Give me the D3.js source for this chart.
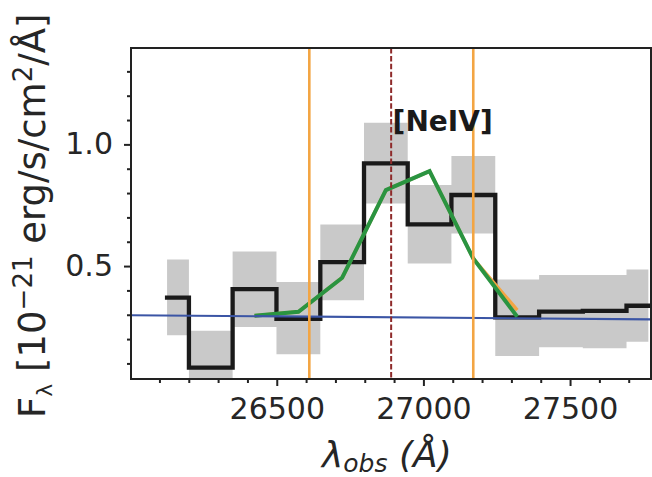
<!DOCTYPE html>
<html>
<head>
<meta charset="utf-8">
<script src="https://cdn.jsdelivr.net/npm/d3@7"></script>
<style>
  body { margin: 0; background: #fff; }
  text { font-family: "DejaVu Sans", sans-serif; }
</style>
</head>
<body>
<div id="chart"></div>
<script>
// spectrum bins (observed wavelength, Angstrom)
var wave = [26126, 26275, 26424, 26574, 26723, 26872, 27021, 27170, 27320, 27469, 27618, 27767];
var flux = [0.370, 0.083, 0.405, 0.283, 0.516, 0.922, 0.671, 0.792, 0.289, 0.313, 0.316, 0.337];
var fluxLo = [0.216, -0.07, 0.250, 0.138, 0.360, 0.757, 0.511, 0.634, 0.130, 0.166, 0.162, 0.189];
var fluxHi = [0.527, 0.234, 0.560, 0.435, 0.671, 1.089, 0.833, 0.952, 0.445, 0.463, 0.463, 0.486];

// line fit
var modelWave = [26424, 26574, 26723, 26872, 27021, 27170, 27320];
var model = [0.296, 0.312, 0.452, 0.812, 0.890, 0.531, 0.292];
var modelAlt = [0.296, 0.312, 0.452, 0.812, 0.890, 0.531, 0.319];

// continuum
var contWave = [26003, 27776];
var cont = [0.298, 0.281];

// markers
var windowLines = [26611, 27170];
var lineCenter = 26890;
var lineName = "[NeIV]";

var xMajor = [26500, 27000, 27500];
var xMinor = [26100, 26200, 26300, 26400, 26600, 26700, 26800, 26900, 27100, 27200, 27300, 27400, 27600, 27700];
var yMajor = [0.5, 1.0];
var yMinor = [0.1, 0.2, 0.3, 0.4, 0.6, 0.7, 0.8, 0.9, 1.1, 1.2, 1.3];

var W = 652, H = 477;
var pLeft = 131, pRight = 651, pTop = 48, pBottom = 379;

var svg = d3.select("#chart").append("svg")
    .attr("width", W).attr("height", H);

var x = d3.scaleLinear().domain([26003, 27776]).range([pLeft, pRight]);
var y = d3.scaleLinear().domain([0.036, 1.396]).range([pBottom, pTop]);

svg.append("clipPath").attr("id", "clip")
  .append("rect")
    .attr("x", pLeft).attr("y", pTop)
    .attr("width", pRight - pLeft).attr("height", pBottom - pTop);

var plot = svg.append("g").attr("clip-path", "url(#clip)");

var idx = d3.range(wave.length);

// error band
plot.append("path")
    .datum(idx)
    .attr("fill", "#c9c9c9")
    .attr("d", d3.area()
        .curve(d3.curveStep)
        .x(function(i) { return x(wave[i]); })
        .y0(function(i) { return y(fluxLo[i]); })
        .y1(function(i) { return y(fluxHi[i]); }));

// data step
plot.append("path")
    .datum(idx)
    .attr("fill", "none")
    .attr("stroke", "#1a1a1a")
    .attr("stroke-width", 4.3)
    .attr("stroke-linecap", "square")
    .attr("d", d3.line()
        .curve(d3.curveStep)
        .x(function(i) { return x(wave[i]); })
        .y(function(i) { return y(flux[i]); }));

var mIdx = d3.range(modelWave.length);

plot.append("path")
    .datum(mIdx)
    .attr("fill", "none")
    .attr("stroke", "#f3a543")
    .attr("stroke-width", 3.5)
    .attr("d", d3.line()
        .x(function(i) { return x(modelWave[i]); })
        .y(function(i) { return y(modelAlt[i]); }));

plot.append("path")
    .datum(mIdx)
    .attr("fill", "none")
    .attr("stroke", "#2a9441")
    .attr("stroke-width", 4)
    .attr("d", d3.line()
        .x(function(i) { return x(modelWave[i]); })
        .y(function(i) { return y(model[i]); }));

// continuum
plot.append("path")
    .datum([0, 1])
    .attr("fill", "none")
    .attr("stroke", "#3b55a5")
    .attr("stroke-width", 2.2)
    .attr("d", d3.line()
        .x(function(i) { return x(contWave[i]); })
        .y(function(i) { return y(cont[i]); }));

// integration window
plot.selectAll(".win")
    .data(windowLines)
    .enter().append("line")
    .attr("x1", function(d) { return x(d); })
    .attr("x2", function(d) { return x(d); })
    .attr("y1", pTop).attr("y2", pBottom)
    .attr("stroke", "#f3a543")
    .attr("stroke-width", 2.6);

plot.append("line")
    .attr("x1", x(lineCenter)).attr("x2", x(lineCenter))
    .attr("y1", pTop).attr("y2", pBottom)
    .attr("stroke", "#8e2a2a")
    .attr("stroke-width", 2)
    .attr("stroke-dasharray", "5.5,2.4");

svg.append("text")
    .attr("x", x(26895)).attr("y", y(1.057))
    .attr("font-size", 28)
    .attr("font-weight", "bold")
    .attr("fill", "#1a1a1a")
    .text(lineName);

// axes
var gx = svg.append("g").attr("transform", "translate(0," + pBottom + ")");
gx.call(d3.axisBottom(x).tickValues(xMajor).tickFormat(d3.format("d")).tickSize(7).tickPadding(12));
var gxm = svg.append("g").attr("transform", "translate(0," + pBottom + ")");
gxm.call(d3.axisBottom(x).tickValues(xMinor).tickFormat("").tickSize(4));

var gy = svg.append("g").attr("transform", "translate(" + pLeft + ",0)");
gy.call(d3.axisLeft(y).tickValues(yMajor).tickFormat(d3.format(".1f")).tickSize(7).tickPadding(11));
var gym = svg.append("g").attr("transform", "translate(" + pLeft + ",0)");
gym.call(d3.axisLeft(y).tickValues(yMinor).tickFormat("").tickSize(4));

svg.selectAll(".domain").remove();
svg.selectAll(".tick line").attr("stroke", "#222").attr("stroke-width", 2);
svg.selectAll(".tick text")
    .attr("font-size", 30)
    .attr("fill", "#262626")
    .style("font-family", "DejaVu Sans");

// frame
svg.append("rect")
    .attr("x", pLeft).attr("y", pTop)
    .attr("width", pRight - pLeft).attr("height", pBottom - pTop)
    .attr("fill", "none")
    .attr("stroke", "#222")
    .attr("stroke-width", 2);

// x label
var xl = svg.append("text")
    .attr("x", 322).attr("y", 467)
    .attr("font-size", 36)
    .attr("font-style", "italic")
    .attr("fill", "#262626");
xl.append("tspan").text("λ");
xl.append("tspan").attr("font-size", 25).attr("dy", 5).text("obs");
xl.append("tspan").attr("dy", -5).text(" (Å)");

// y label
var yl = svg.append("text")
    .attr("transform", "translate(45,418) rotate(-90)")
    .attr("font-size", 37)
    .attr("fill", "#262626");
yl.append("tspan").text("F");
yl.append("tspan").attr("font-size", 22).attr("dy", 7).text("λ");
yl.append("tspan").attr("dy", -7).text(" [10");
yl.append("tspan").attr("font-size", 26).attr("dy", -13).text("−21");
yl.append("tspan").attr("dy", 13).text(" erg/s/cm");
yl.append("tspan").attr("font-size", 26).attr("dy", -13).text("2");
yl.append("tspan").attr("dy", 13).text("/Å]");
</script>
</body>
</html>
